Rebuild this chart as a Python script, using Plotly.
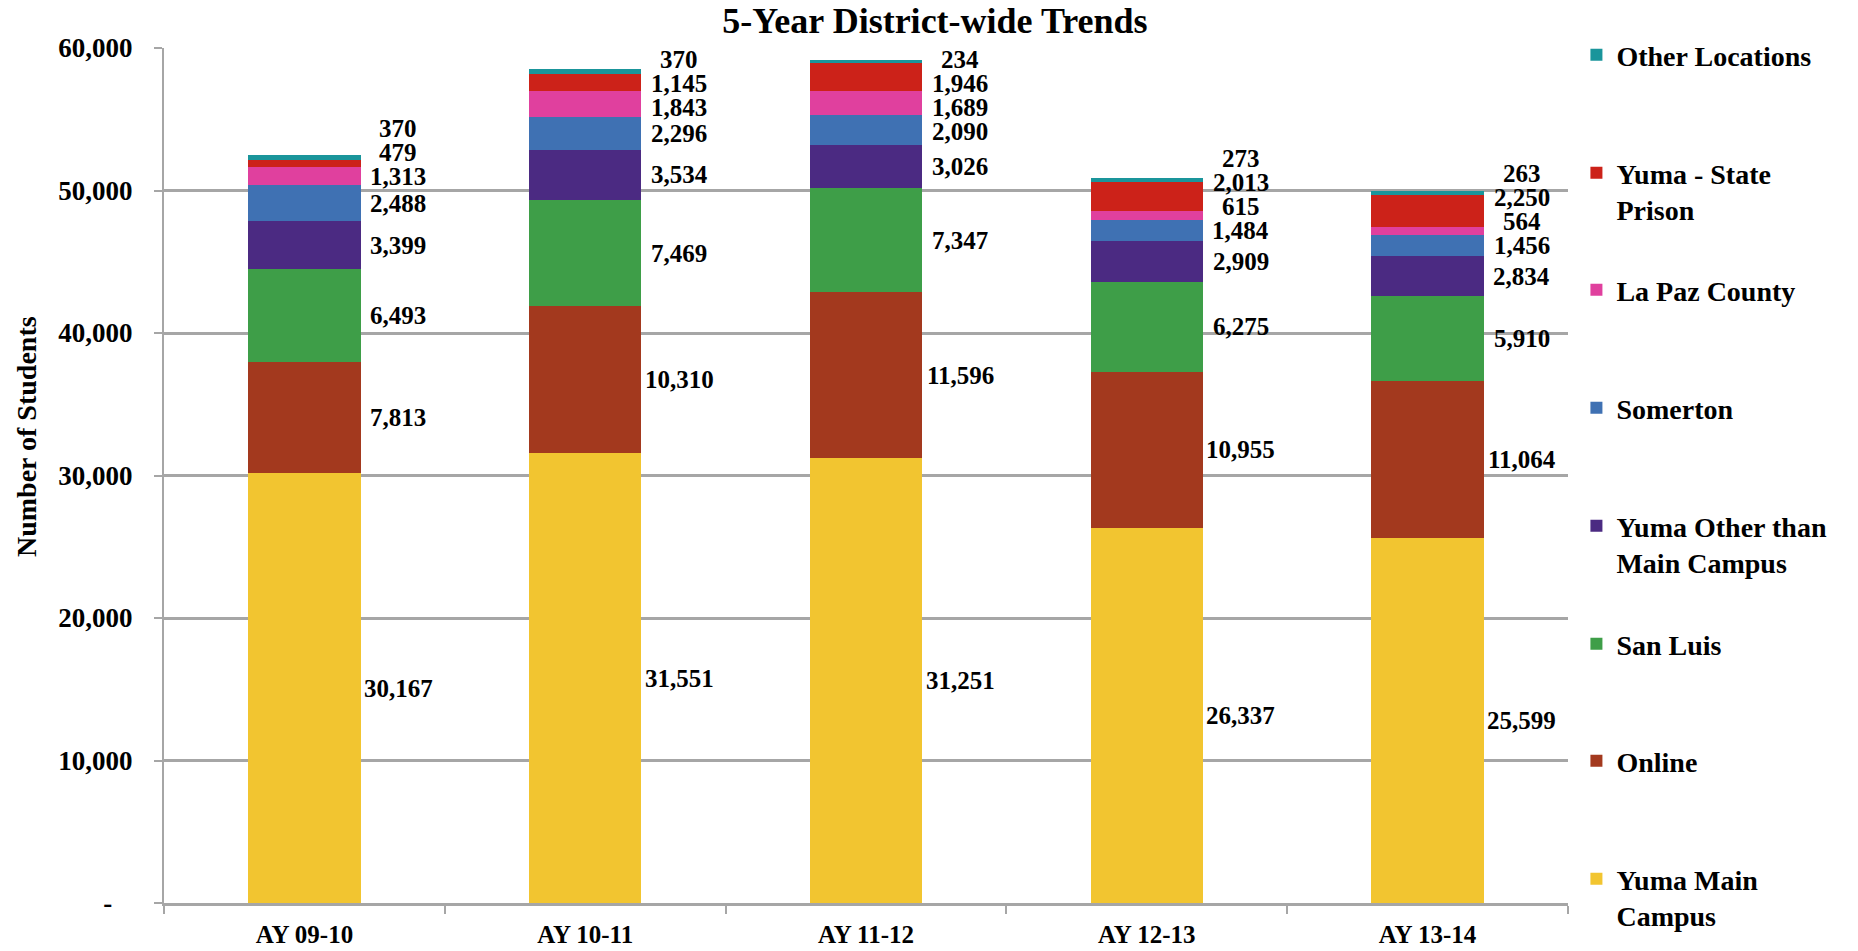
import plotly.graph_objects as go

# ---------------- data ----------------
years = ["AY 09-10", "AY 10-11", "AY 11-12", "AY 12-13", "AY 13-14"]

yuma_main = [30167, 31551, 31251, 26337, 25599]
online = [7813, 10310, 11596, 10955, 11064]
san_luis = [6493, 7469, 7347, 6275, 5910]
yuma_other = [3399, 3534, 3026, 2909, 2834]
somerton = [2488, 2296, 2090, 1484, 1456]
la_paz = [1313, 1843, 1689, 615, 564]
prison = [479, 1145, 1946, 2013, 2250]
other_loc = [370, 370, 234, 273, 263]

series_names = ["Yuma Main<br>Campus", "Online", "San Luis",
                "Yuma Other than<br>Main Campus", "Somerton", "La Paz County",
                "Yuma - State<br>Prison", "Other Locations"]
series_values = [yuma_main, online, san_luis, yuma_other, somerton, la_paz,
                 prison, other_loc]
series_colors = ["#F2C530", "#A3391E", "#3E9E48", "#4B2A82", "#3F71B3",
                 "#E0409E", "#CC2219", "#1A959B"]

y_tick_vals = [0, 10000, 20000, 30000, 40000, 50000, 60000]
y_tick_text = ["-\u00a0\u00a0\u00a0", "10,000", "20,000", "30,000",
               "40,000", "50,000", "60,000"]

# ---------------- layout constants ----------------
W, H = 1858, 951
ML, MR, MT, MB = 164, 290, 48, 48
PH = H - MT - MB
FONT = "Liberation Serif"
GRID = "#A6A6A6"

fig = go.Figure()

# legend slots (first-line centre, in pixels from top)
legend_centres = [880, 762, 645, 527, 409, 291, 174, 56]

for i, (name, vals, col) in enumerate(zip(series_names, series_values, series_colors)):
    fig.add_trace(go.Bar(
        x=years, y=vals, name=name, marker=dict(color=col, line=dict(width=0)),
        legend=f"legend{i+2}", hoverinfo="x+y+name",
    ))

legend_layout = {}
for i, c in enumerate(legend_centres):
    key = f"legend{i+2}"
    top_px = c - 26
    legend_layout[key] = dict(
        x=1.006, xanchor="left", y=(H - MB - top_px) / PH, yanchor="top",
        bgcolor="rgba(0,0,0,0)", borderwidth=0, valign="top",
        font=dict(family=FONT, size=28, color="black", weight="bold"),
        itemclick=False, itemdoubleclick=False,
    )

# ---------------- data labels (positions derived from data) ----------------
GAP = 1680
CAP = 59200
annotations = []
for j in range(len(years)):
    vals = [s[j] for s in series_values]
    mids = []
    cum = 0
    for v in vals:
        mids.append(cum + v / 2)
        cum += v
    pos = list(mids)
    for k in range(1, len(pos)):
        pos[k] = max(pos[k], pos[k - 1] + GAP)
    pos[-1] = min(pos[-1], CAP)
    for k in range(len(pos) - 2, -1, -1):
        pos[k] = min(pos[k], pos[k + 1] - GAP)
    for v, p in zip(vals, pos):
        annotations.append(dict(
            x=j + 0.335, y=p, xref="x", yref="y", text=f"{v:,}",
            showarrow=False, xanchor="center", yanchor="middle",
            font=dict(family=FONT, size=25, color="black", weight="bold"),
        ))

annotations.append(dict(
    x=(26 - ML) / (W - ML - MR), y=(H - MB - 437) / PH, xref="paper", yref="paper",
    xanchor="center", yanchor="middle",
    text="Number of Students", textangle=-90, showarrow=False,
    font=dict(family=FONT, size=28, color="black", weight="bold"),
))

fig.update_layout(
    width=W, height=H,
    margin=dict(l=ML, r=MR, t=MT, b=MB, autoexpand=False),
    paper_bgcolor="white", plot_bgcolor="white",
    barmode="stack", bargap=0.6, showlegend=True,
    font=dict(family=FONT, color="black", weight="bold"),
    title=dict(text="5-Year District-wide Trends", x=935 / W, xref="container",
               xanchor="center", y=1 - 20 / H, yref="container", yanchor="middle",
               font=dict(family=FONT, size=36, color="black", weight="bold")),
    annotations=annotations,
    **legend_layout,
)

fig.update_xaxes(
    type="category", showgrid=False, showline=True, linecolor=GRID, linewidth=2.5,
    ticks="outside", tickson="boundaries", ticklen=8, tickcolor=GRID, tickwidth=2,
    tickfont=dict(family=FONT, size=25, color="black", weight="bold"),
    ticklabelstandoff=7, automargin=False, fixedrange=True,
)
fig.update_yaxes(
    range=[0, 60000], tickvals=y_tick_vals, ticktext=y_tick_text,
    showgrid=True, gridcolor=GRID, gridwidth=2.5, zeroline=False,
    showline=True, linecolor=GRID, linewidth=2,
    ticks="outside", ticklen=8, tickcolor=GRID, tickwidth=2,
    tickfont=dict(family=FONT, size=27, color="black", weight="bold"),
    ticklabelstandoff=16, automargin=False, fixedrange=True,
)

fig.write_html(
    "out.html",
    config={"displayModeBar": False},
    post_script="document.body.style.margin='0';document.body.style.overflow='hidden';",
)
